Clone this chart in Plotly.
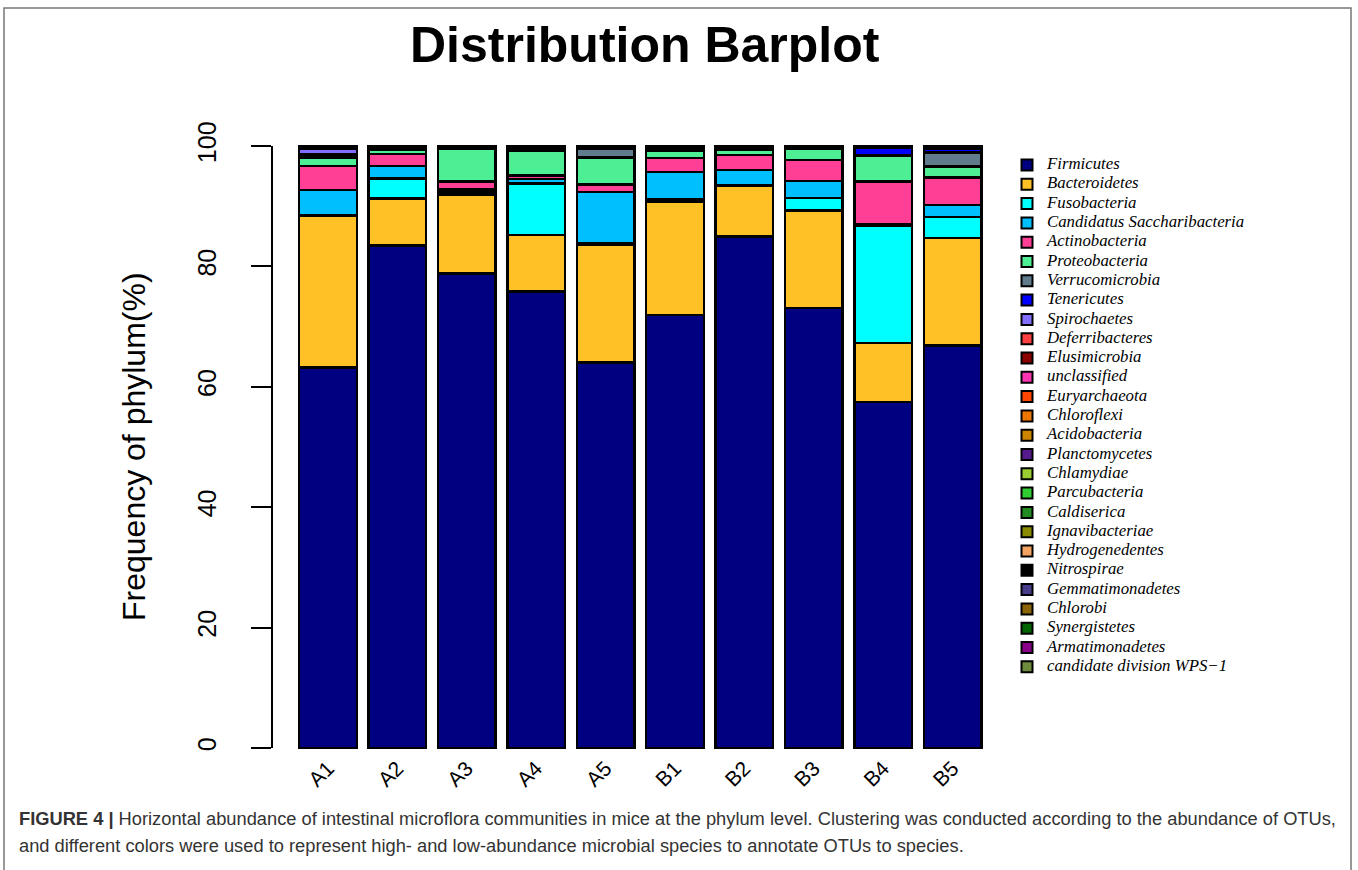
import plotly.graph_objects as go

# Sample groups on the x axis
samples = ["A1", "A2", "A3", "A4", "A5", "B1", "B2", "B3", "B4", "B5"]

# Phyla, stacked bottom to top, with their fill colours
phyla = [
    "Firmicutes", "Bacteroidetes", "Fusobacteria", "Candidatus Saccharibacteria",
    "Actinobacteria", "Proteobacteria", "Verrucomicrobia", "Tenericutes",
    "Spirochaetes", "Deferribacteres", "Elusimicrobia", "unclassified",
    "Euryarchaeota", "Chloroflexi", "Acidobacteria", "Planctomycetes",
    "Chlamydiae", "Parcubacteria", "Caldiserica", "Ignavibacteriae",
    "Hydrogenedentes", "Nitrospirae", "Gemmatimonadetes", "Chlorobi",
    "Synergistetes", "Armatimonadetes", "candidate division WPS\u22121",
]
colors = [
    "#000080", "#FFC125", "#00FFFF", "#00BFFF",
    "#FF3E96", "#4EEE94", "#607B8B", "#0000FF",
    "#836FFF", "#FF4040", "#8B0000", "#FF34B3",
    "#FF4500", "#EE7600", "#CD8500", "#551A8B",
    "#9ACD32", "#32CD32", "#228B22", "#8B8B00",
    "#F4A460", "#000000", "#483D8B", "#8B6508",
    "#006400", "#8B008B", "#6E8B3D",
]

# Relative abundance (%) per sample, one list per phylum
firmicutes     = [63.2, 83.5, 78.8, 75.8, 64.0, 71.9, 85.0, 73.1, 57.5, 66.9]
bacteroidetes  = [25.2, 7.8, 13.1, 9.4, 19.6, 18.8, 8.4, 16.2, 9.8, 17.8]
fusobacteria   = [0.1, 3.3, 0.4, 8.6, 0.2, 0.4, 0.1, 2.1, 19.5, 3.5]
saccharibact   = [4.2, 2.1, 0.5, 0.7, 8.6, 4.6, 2.5, 2.8, 0.2, 2.0]
actinobacteria = [4.0, 2.0, 1.3, 0.6, 1.2, 2.3, 2.5, 3.5, 7.1, 4.6]
proteobacteria = [1.4, 0.7, 5.5, 4.1, 4.5, 1.2, 0.9, 1.9, 4.3, 1.8]
verrucomicrob  = [0.3, 0.1, 0.1, 0.1, 1.5, 0.1, 0.1, 0.1, 0.1, 2.3]
tenericutes    = [0.2, 0.1, 0.1, 0.2, 0.1, 0.2, 0.1, 0.1, 1.2, 0.6]
spirochaetes   = [0.9, 0.1, 0.0, 0.1, 0.0, 0.1, 0.1, 0.0, 0.0, 0.0]
deferribact    = [0.10, 0.05, 0.04, 0.10, 0.06, 0.10, 0.06, 0.04, 0.06, 0.10]
elusimicrobia  = [0.10, 0.06, 0.04, 0.08, 0.06, 0.08, 0.06, 0.04, 0.06, 0.10]
unclassified   = [0.12, 0.08, 0.05, 0.10, 0.08, 0.10, 0.08, 0.05, 0.08, 0.12]
euryarchaeota  = [0.06, 0.03, 0.02, 0.04, 0.03, 0.04, 0.03, 0.02, 0.03, 0.06]
chloroflexi    = [0.03, 0.02, 0.01, 0.02, 0.02, 0.02, 0.02, 0.01, 0.02, 0.03]
acidobacteria  = [0.02, 0.01, 0.01, 0.01, 0.01, 0.01, 0.01, 0.01, 0.01, 0.02]
planctomycetes = [0.02, 0.01, 0.01, 0.01, 0.01, 0.01, 0.01, 0.01, 0.01, 0.02]
chlamydiae     = [0.01, 0.01, 0.0, 0.01, 0.0, 0.01, 0.0, 0.0, 0.0, 0.01]
parcubacteria  = [0.01, 0.0, 0.0, 0.01, 0.0, 0.01, 0.0, 0.0, 0.0, 0.01]
caldiserica    = [0.01, 0.0, 0.0, 0.0, 0.0, 0.01, 0.0, 0.0, 0.0, 0.01]
ignavibacter   = [0.01, 0.0, 0.0, 0.0, 0.0, 0.0, 0.0, 0.0, 0.0, 0.01]
hydrogenedent  = [0.01, 0.0, 0.0, 0.0, 0.0, 0.0, 0.0, 0.0, 0.0, 0.0]
nitrospirae    = [0.0, 0.0, 0.0, 0.01, 0.0, 0.0, 0.0, 0.0, 0.0, 0.0]
gemmatimonad   = [0.0, 0.0, 0.0, 0.0, 0.0, 0.01, 0.0, 0.0, 0.0, 0.0]
chlorobi       = [0.0, 0.0, 0.0, 0.0, 0.0, 0.0, 0.0, 0.0, 0.0, 0.01]
synergistetes  = [0.01, 0.0, 0.0, 0.0, 0.0, 0.0, 0.0, 0.0, 0.0, 0.0]
armatimonad    = [0.0, 0.0, 0.0, 0.0, 0.0, 0.0, 0.0, 0.0, 0.01, 0.0]
wps1           = [0.0, 0.0, 0.0, 0.0, 0.01, 0.0, 0.0, 0.0, 0.0, 0.0]

series = [
    firmicutes, bacteroidetes, fusobacteria, saccharibact, actinobacteria,
    proteobacteria, verrucomicrob, tenericutes, spirochaetes, deferribact,
    elusimicrobia, unclassified, euryarchaeota, chloroflexi, acidobacteria,
    planctomycetes, chlamydiae, parcubacteria, caldiserica, ignavibacter,
    hydrogenedent, nitrospirae, gemmatimonad, chlorobi, synergistetes,
    armatimonad, wps1,
]

y_ticks = [0, 20, 40, 60, 80, 100]

W, H = 1358, 870
# plot region in pixels
PL, PR, PT, PB = 272, 1000, 140, 751
x_pos = list(range(len(samples)))


def fx(px):
    return px / W


def fy(py):
    return 1 - py / H


fig = go.Figure()
for name, col, vals in zip(phyla, colors, series):
    fig.add_trace(go.Bar(
        x=x_pos, y=vals, name=name, width=0.83, showlegend=False,
        marker=dict(color=col, line=dict(color="black", width=2.5)),
        xaxis="x", yaxis="y",
    ))

# key: one square and one label per phylum, laid out on its own axes
rows = list(range(len(phyla)))
fig.add_trace(go.Scatter(
    x=[27] * len(phyla), y=rows, mode="markers", showlegend=False,
    marker=dict(symbol="square", size=11, color=colors,
                line=dict(color="black", width=2)),
    xaxis="x2", yaxis="y2", hoverinfo="skip",
))
fig.add_trace(go.Scatter(
    x=[47] * len(phyla), y=rows, mode="text", text=phyla,
    textposition="middle right", showlegend=False,
    textfont=dict(family="Liberation Serif, Times New Roman, serif", size=16.8,
                  style="italic", color="black"),
    xaxis="x2", yaxis="y2", hoverinfo="skip",
))

row_px = 19.3
row0 = 165
fig.update_layout(
    width=W, height=H,
    margin=dict(l=0, r=0, t=0, b=0, pad=0, autoexpand=False),
    paper_bgcolor="white", plot_bgcolor="rgba(0,0,0,0)",
    barmode="stack",
    font=dict(family="Liberation Sans, Arial, sans-serif", color="black"),
    xaxis=dict(
        domain=[fx(PL), fx(PR)], automargin=False,
        range=[-0.807, 9.683], tickmode="array", tickvals=x_pos, ticktext=samples,
        tickangle=-45, showgrid=False, zeroline=False, showline=False, ticks="",
        tickfont=dict(size=21, color="black"), anchor="y",
    ),
    yaxis=dict(
        domain=[fy(PB), fy(PT)], automargin=False,
        range=[-0.5, 101], tickmode="array", tickvals=y_ticks,
        ticktext=[str(v) for v in y_ticks], tickangle=-90,
        ticks="outside", ticklen=20, tickwidth=2, tickcolor="black",
        ticklabelstandoff=25,
        showgrid=False, zeroline=False, showline=False,
        tickfont=dict(size=25, color="black"), anchor="x",
    ),
    xaxis2=dict(domain=[fx(PR), 1.0], range=[0, W - PR], visible=False,
                anchor="y2", fixedrange=True, automargin=False),
    yaxis2=dict(domain=[fy(PB), fy(PT)],
                range=[(PB - row0) / row_px, (PT - row0) / row_px],
                visible=False, anchor="x2", fixedrange=True, automargin=False),
    showlegend=False,
)

# y axis line from 0 to 100
fig.add_shape(type="line", xref="x domain", yref="y", x0=0, x1=0, y0=0, y1=100,
              line=dict(color="black", width=2))

# outer figure frame
fig.add_shape(type="rect", xref="paper", yref="paper",
              x0=fx(4), x1=fx(1351), y0=-0.2, y1=fy(8),
              line=dict(color="#777777", width=1.5), fillcolor="rgba(0,0,0,0)")

fig.add_annotation(
    text="<b>Distribution Barplot</b>", xref="paper", yref="paper",
    x=fx(645), y=fy(45), xanchor="center", yanchor="middle",
    showarrow=False, font=dict(size=50, family="Liberation Sans, Arial, sans-serif"),
)

fig.add_annotation(
    text="Frequency of phylum(%)", xref="paper", yref="paper",
    x=fx(134), y=fy(447), xanchor="center", yanchor="middle",
    textangle=-90, showarrow=False,
    font=dict(size=32, family="Liberation Sans, Arial, sans-serif"),
)

caption_font = dict(size=18.3, color="#333333", family="Liberation Sans, Arial, sans-serif")
fig.add_annotation(
    text=("<b>FIGURE 4 |</b> Horizontal abundance of intestinal microflora communities in mice "
          "at the phylum level. Clustering was conducted according to the abundance of OTUs,"),
    xref="paper", yref="paper", x=fx(17), y=fy(818),
    xanchor="left", yanchor="middle", align="left", showarrow=False, font=caption_font,
)
fig.add_annotation(
    text=("and different colors were used to represent high- and low-abundance microbial "
          "species to annotate OTUs to species."),
    xref="paper", yref="paper", x=fx(17), y=fy(845),
    xanchor="left", yanchor="middle", align="left", showarrow=False, font=caption_font,
)

fig.write_html("out.html")
